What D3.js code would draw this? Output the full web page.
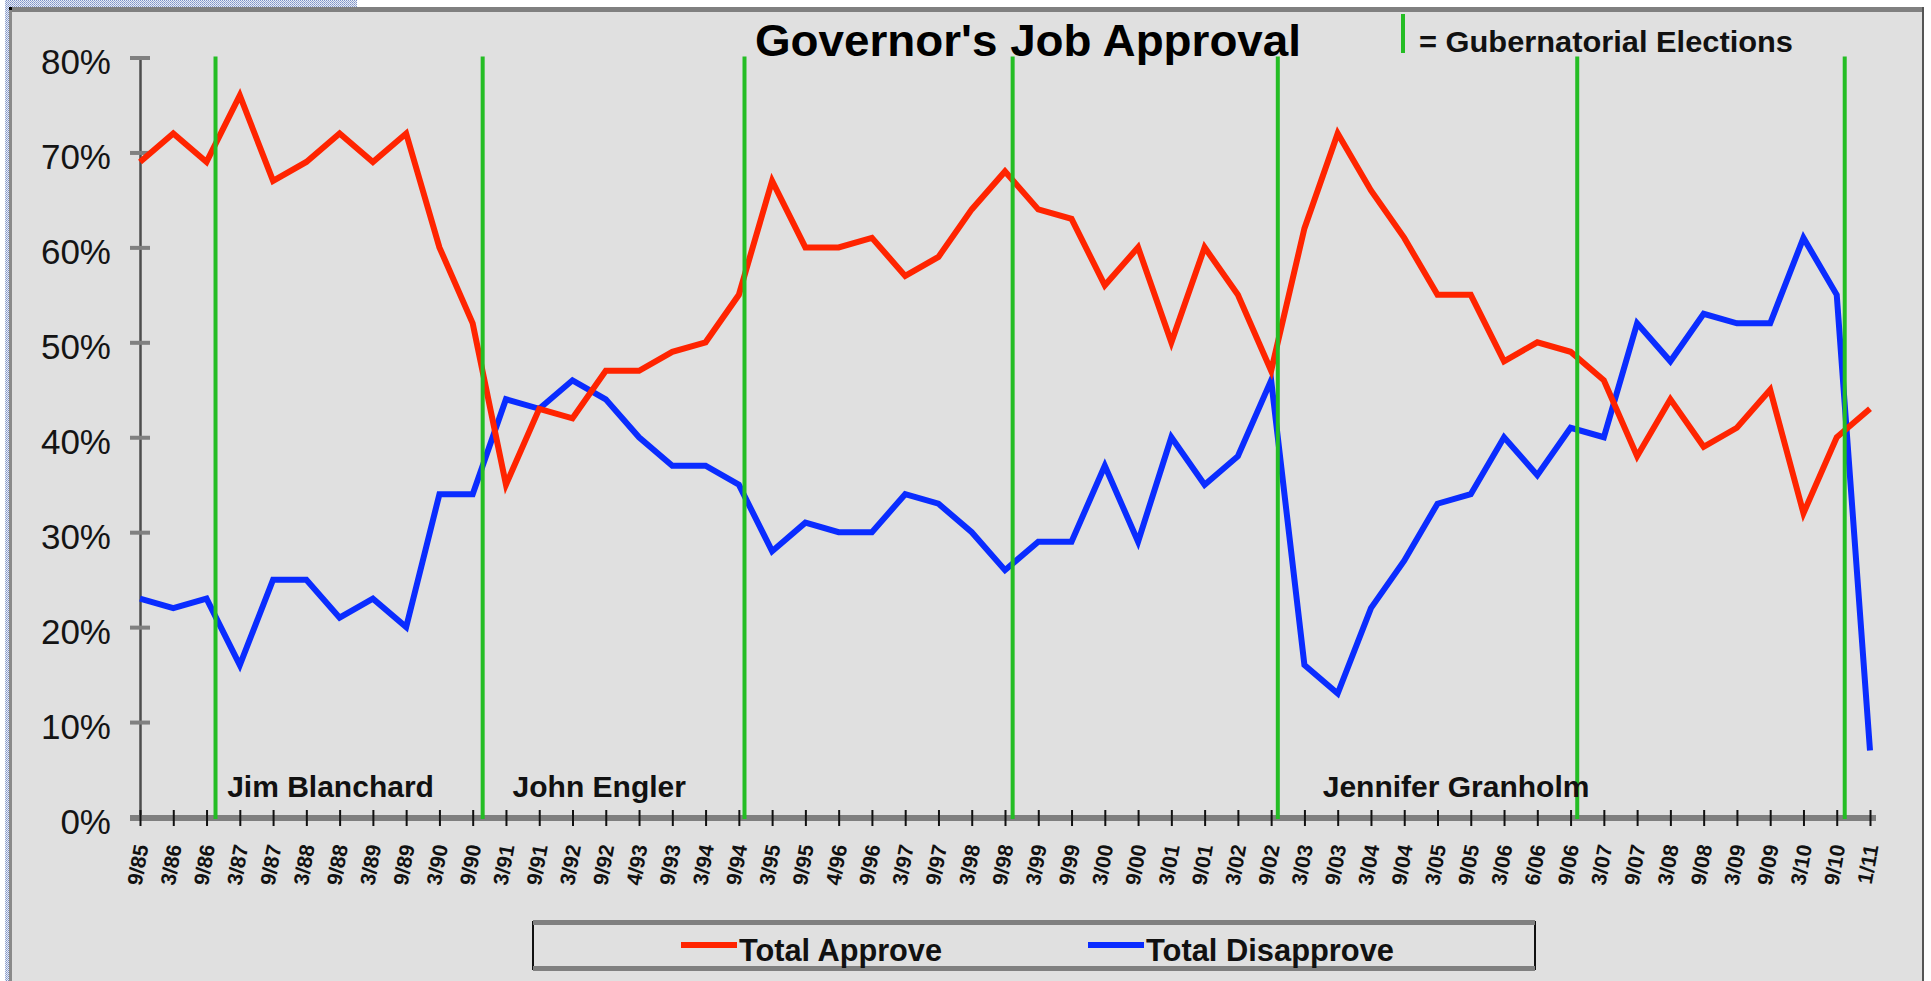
<!DOCTYPE html>
<html>
<head>
<meta charset="utf-8">
<script src="https://cdn.jsdelivr.net/npm/d3@7"></script>
<style>
  html, body { margin: 0; padding: 0; background: #ffffff; }
  svg { display: block; }
  text { font-family: "Liberation Sans", Arial, Helvetica, sans-serif; }
</style>
</head>
<body>
<svg id="chart" width="1931" height="981"></svg>
<script>
// ---------------- data ----------------
const dates = ["9/85","3/86","9/86","3/87","9/87","3/88","9/88","3/89","9/89","3/90",
  "9/90","3/91","9/91","3/92","9/92","4/93","9/93","3/94","9/94","3/95",
  "9/95","4/96","9/96","3/97","9/97","3/98","9/98","3/99","9/99","3/00",
  "9/00","3/01","9/01","3/02","9/02","3/03","9/03","3/04","9/04","3/05",
  "9/05","3/06","6/06","9/06","3/07","9/07","3/08","9/08","3/09","9/09",
  "3/10","9/10","1/11"];
const totalApprove = [69,72,69,76,67,69,72,69,72,60,
  52,35,43,42,47,47,49,50,55,67,
  60,60,61,57,59,64,68,64,63,56,
  60,50,60,55,47,62,72,66,61,55,
  55,48,50,49,46,38,44,39,41,45,
  32,40,43];
const totalDisapprove = [23,22,23,16,25,25,21,23,20,34,
  34,44,43,46,44,40,37,37,35,28,
  31,30,30,34,33,30,26,29,29,37,
  29,40,35,38,46,16,13,22,27,33,
  34,40,36,41,40,52,48,53,52,52,
  61,55,7];
// Gubernatorial elections, as position along the date axis (index units, Nov of election year)
const electionPositions = [2.27, 10.3, 18.17, 26.23, 34.2, 43.2, 51.24];
const governors = ["Jim Blanchard", "John Engler", "Jennifer Granholm"];
const yTicks = [0,10,20,30,40,50,60,70,80];
const seriesNames = ["Total Approve", "Total Disapprove"];
const titleText = "Governor's Job Approval";
const electionLegendText = "= Gubernatorial Elections";

// ---------------- layout ----------------
const W = 1931, H = 981;
const svg = d3.select("#chart");
const defs = svg.append("defs");
const pat = defs.append("pattern").attr("id","dots").attr("width",2).attr("height",2)
  .attr("patternUnits","userSpaceOnUse");
pat.append("rect").attr("width",2).attr("height",2).attr("fill","#e9edf7");
pat.append("rect").attr("width",1).attr("height",1).attr("fill","#7f93c6");
pat.append("rect").attr("x",1).attr("y",1).attr("width",1).attr("height",1).attr("fill","#9aaad3");

svg.append("rect").attr("width",W).attr("height",H).attr("fill","#ffffff");
// dotted strips (top-left, left)
svg.append("rect").attr("x",5).attr("y",0).attr("width",352).attr("height",8).attr("fill","url(#dots)");
svg.append("rect").attr("x",5).attr("y",0).attr("width",4).attr("height",H).attr("fill","url(#dots)");
// panel
svg.append("rect").attr("x",9).attr("y",8).attr("width",1915).attr("height",H-8).attr("fill","#e0e0e0");
// frame
svg.append("rect").attr("x",9).attr("y",7).attr("width",1915).attr("height",5).attr("fill","#808080");
svg.append("rect").attr("x",9).attr("y",7).attr("width",3).attr("height",H-7).attr("fill","#8a8a8a");
svg.append("rect").attr("x",1922).attr("y",7).attr("width",2).attr("height",H-7).attr("fill","#555");
svg.append("rect").attr("x",9).attr("y",7).attr("width",3).attr("height",3).attr("fill","#000");

// ---------------- scales ----------------
const x = d3.scalePoint().domain(dates).range([140, 1870]);
const y = d3.scaleLinear().domain([0, 80]).range([817, 57.5]);
const xPos = p => x(dates[0]) + p * x.step();

// ---------------- axes ----------------
const yAxis = svg.append("g").attr("transform", `translate(${x(dates[0])},0)`)
  .call(d3.axisLeft(y).tickValues(yTicks).tickFormat(d => d + "%").tickSizeOuter(0).tickSizeInner(10));
yAxis.select(".domain").attr("stroke","#4d4d4d").attr("stroke-width",2.5);
yAxis.selectAll(".tick line").attr("x1",-10).attr("x2",10).attr("stroke","#808080").attr("stroke-width",4);
yAxis.selectAll(".tick text").attr("x",-29).attr("dy",16)
  .attr("font-size",35).attr("fill","#141414")
  .style("font-family",'"Liberation Sans", Arial, sans-serif');

const xAxisG = svg.append("g").attr("transform", `translate(0,${y(0)+1})`);
xAxisG.append("line").attr("x1", x(dates[0]) - 10).attr("x2", x(dates[dates.length-1]) + 6)
  .attr("stroke","#7f7f7f").attr("stroke-width",6);
const xAxis = xAxisG.append("g").call(d3.axisBottom(x).tickSizeOuter(0).tickSizeInner(8));
xAxis.select(".domain").remove();
xAxis.selectAll(".tick line").attr("y1",-8).attr("y2",8).attr("stroke","#111").attr("stroke-width",2);
xAxis.selectAll(".tick text")
  .attr("x",0).attr("y",0).attr("dy",null)
  .attr("transform","translate(8,28) rotate(-80)")
  .style("text-anchor","end")
  .attr("font-size",21).attr("font-weight","bold").attr("fill","#111")
  .style("font-family",'"Liberation Sans", Arial, sans-serif');

// ---------------- series lines ----------------
const line = d3.line().x((d,i) => x(dates[i])).y(d => y(d)).curve(d3.curveLinear);
svg.append("path").datum(totalDisapprove).attr("d", line)
  .attr("fill","none").attr("stroke","#0a2cff").attr("stroke-width",6).attr("stroke-linejoin","miter");
svg.append("path").datum(totalApprove).attr("d", line)
  .attr("fill","none").attr("stroke","#ff2400").attr("stroke-width",6).attr("stroke-linejoin","miter");

// ---------------- election lines ----------------
svg.append("g").selectAll("line").data(electionPositions).join("line")
  .attr("x1", d => xPos(d)).attr("x2", d => xPos(d))
  .attr("y1", y(80) - 1).attr("y2", y(0) + 2)
  .attr("stroke","#24bd24").attr("stroke-width",4);

// ---------------- governor labels ----------------
const govPos = [2.62, 11.2, 35.55];
svg.append("g").selectAll("text").data(governors).join("text")
  .attr("x", (d,i) => xPos(govPos[i])).attr("y", y(0) - 20)
  .attr("font-size",30).attr("font-weight","bold").attr("fill","#111")
  .text(d => d);

// ---------------- title ----------------
svg.append("text").attr("x",755).attr("y",56)
  .attr("font-size",45).attr("font-weight","bold").attr("fill","#000")
  .attr("textLength",546).attr("lengthAdjust","spacingAndGlyphs")
  .text(titleText);

// election key
svg.append("line").attr("x1",1403).attr("x2",1403).attr("y1",14).attr("y2",53)
  .attr("stroke","#24bd24").attr("stroke-width",4);
svg.append("text").attr("x",1419).attr("y",52)
  .attr("font-size",30).attr("font-weight","bold").attr("fill","#111")
  .attr("textLength",374).attr("lengthAdjust","spacingAndGlyphs")
  .text(electionLegendText);

// ---------------- legend ----------------
const lg = svg.append("g");
lg.append("rect").attr("x",533).attr("y",922).attr("width",1002).attr("height",47)
  .attr("fill","#e0e0e0").attr("stroke","#111").attr("stroke-width",2);
lg.append("rect").attr("x",533).attr("y",920).attr("width",1002).attr("height",5).attr("fill","#808080");
lg.append("rect").attr("x",533).attr("y",966).attr("width",1002).attr("height",5).attr("fill","#808080");
const legendColors = ["#ff2400", "#0a2cff"];
const legendX = [681, 1088];
const legendW = [203, 248];
seriesNames.forEach((name, i) => {
  lg.append("line").attr("x1", legendX[i]).attr("x2", legendX[i] + 56).attr("y1",945).attr("y2",945)
    .attr("stroke", legendColors[i]).attr("stroke-width",6);
  lg.append("text").attr("x", legendX[i] + 58).attr("y",961)
    .attr("font-size",32).attr("font-weight","bold").attr("fill","#111")
    .attr("textLength", legendW[i]).attr("lengthAdjust","spacingAndGlyphs")
    .text(name);
});
</script>
</body>
</html>
